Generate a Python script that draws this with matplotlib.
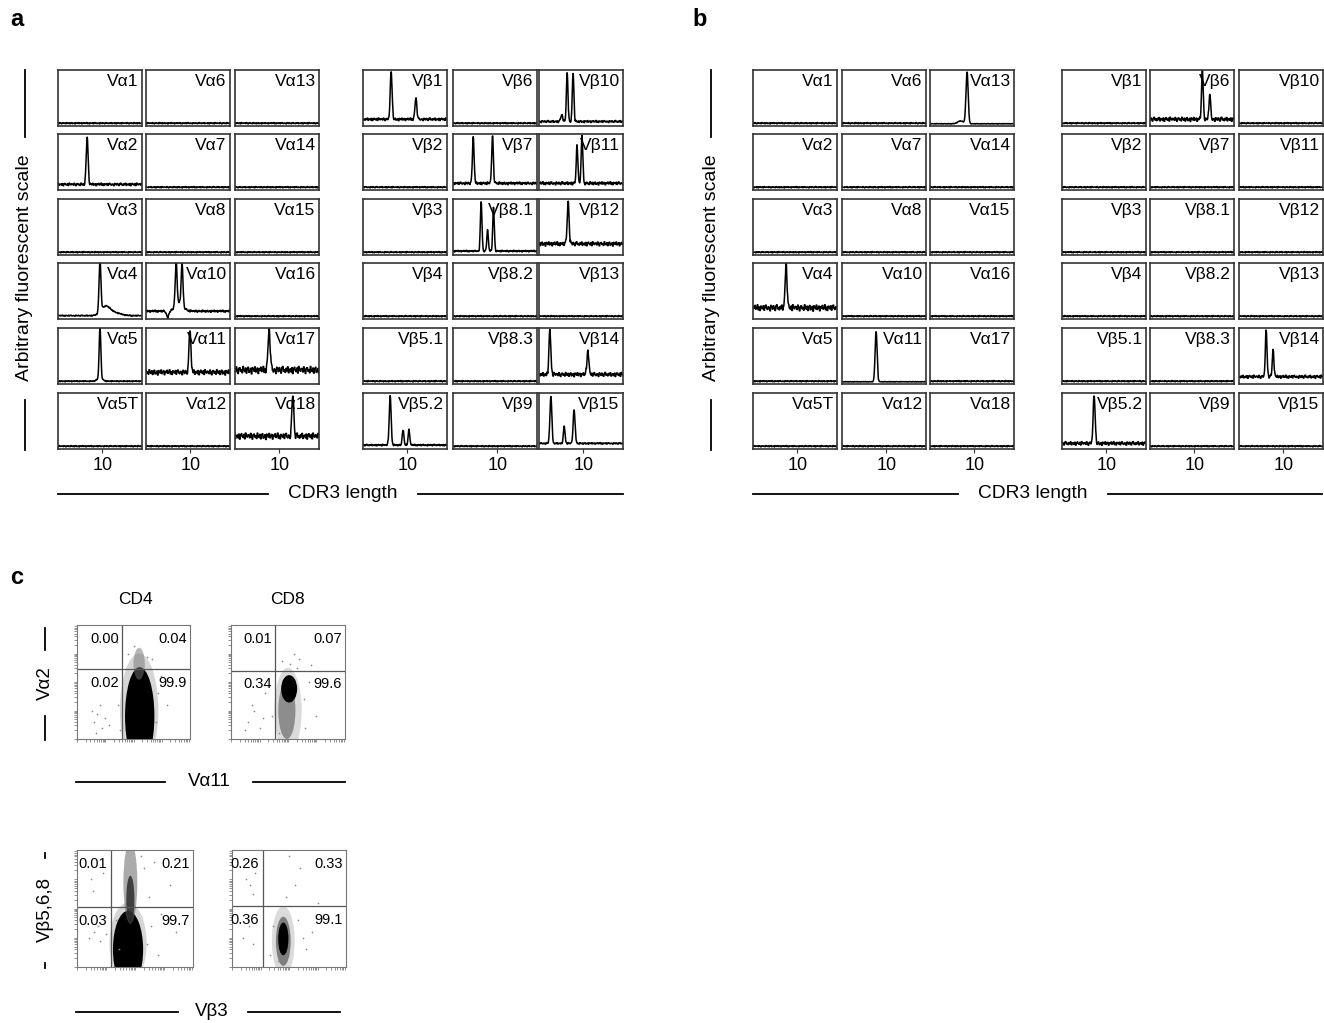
import numpy as np
import matplotlib
matplotlib.use('Agg')
import matplotlib.pyplot as plt
from matplotlib.lines import Line2D
from matplotlib.patches import Ellipse

plt.rcParams['font.family'] = ['Liberation Sans', 'DejaVu Sans']

W, H = 1324, 1023

# --- spectratype data -------------------------------------------------------
alpha_rows = [["Vα1", "Vα6", "Vα13"],
              ["Vα2", "Vα7", "Vα14"],
              ["Vα3", "Vα8", "Vα15"],
              ["Vα4", "Vα10", "Vα16"],
              ["Vα5", "Vα11", "Vα17"],
              ["Vα5T", "Vα12", "Vα18"]]
beta_rows = [["Vβ1", "Vβ6", "Vβ10"],
             ["Vβ2", "Vβ7", "Vβ11"],
             ["Vβ3", "Vβ8.1", "Vβ12"],
             ["Vβ4", "Vβ8.2", "Vβ13"],
             ["Vβ5.1", "Vβ8.3", "Vβ14"],
             ["Vβ5.2", "Vβ9", "Vβ15"]]

# peaks: (CDR3 length, amplitude above baseline, width)
peaks_a = {
    "Vα2": [(6.9, 0.86, 0.19)],
    "Vα4": [(9.5, 0.90, 0.19), (10.6, 0.16, 0.9), (12.5, 0.05, 1.2)],
    "Vα5": [(9.5, 0.90, 0.17), (9.5, 0.06, 0.5)],
    "Vα10": [(7.1, 0.78, 0.18), (8.3, 0.74, 0.18), (7.7, 0.15, 0.8), (5.4, -0.11, 0.25)],
    "Vα11": [(9.9, 0.76, 0.19)],
    "Vα17": [(7.9, 0.70, 0.22)],
    "Vα18": [(12.7, 0.74, 0.19)],
    "Vβ1": [(6.7, 0.85, 0.19), (11.7, 0.38, 0.19)],
    "Vβ5.2": [(6.5, 0.88, 0.19), (9.1, 0.28, 0.16), (10.3, 0.28, 0.16)],
    "Vβ7": [(5.1, 0.83, 0.17), (9.0, 0.83, 0.17)],
    "Vβ8.1": [(6.7, 0.88, 0.16), (8.0, 0.38, 0.15), (9.2, 0.78, 0.16)],
    "Vβ10": [(5.6, 0.12, 0.2), (6.7, 0.87, 0.16), (7.9, 0.87, 0.16)],
    "Vβ11": [(8.7, 0.68, 0.16), (9.7, 0.85, 0.16)],
    "Vβ12": [(6.9, 0.75, 0.19)],
    "Vβ14": [(3.2, 0.78, 0.19), (10.9, 0.43, 0.19)],
    "Vβ15": [(3.4, 0.85, 0.19), (6.1, 0.30, 0.17), (8.1, 0.60, 0.19)],
}
peaks_b = {
    "Vα4": [(7.7, 0.77, 0.19)],
    "Vα11": [(7.9, 0.90, 0.2)],
    "Vα13": [(8.5, 0.92, 0.22), (7.2, 0.05, 0.6)],
    "Vβ5.2": [(7.5, 0.85, 0.2)],
    "Vβ6": [(11.6, 0.85, 0.17), (13.1, 0.43, 0.17)],
    "Vβ14": [(6.5, 0.83, 0.17), (7.9, 0.48, 0.17)],
}
# baseline: (level, noise amplitude)
base_a = {"Vα2": (0.10, 0.025), "Vα4": (0.06, 0.01), "Vα5": (0.05, 0.01),
          "Vα10": (0.14, 0.02), "Vα11": (0.21, 0.05), "Vα17": (0.25, 0.07),
          "Vα18": (0.23, 0.06), "Vβ1": (0.12, 0.025), "Vβ5.2": (0.07, 0.015),
          "Vβ7": (0.12, 0.025), "Vβ8.1": (0.07, 0.015), "Vβ10": (0.08, 0.02),
          "Vβ11": (0.12, 0.03), "Vβ12": (0.20, 0.04), "Vβ14": (0.17, 0.04),
          "Vβ15": (0.10, 0.015)}
base_b = {"Vα4": (0.20, 0.06), "Vα11": (0.04, 0.005), "Vα13": (0.04, 0.005),
          "Vβ5.2": (0.10, 0.035), "Vβ6": (0.12, 0.04), "Vβ14": (0.13, 0.03)}
flat_base = (0.05, 0.012)

# measured baseline wiggle, reused in every trace
ripple = [0.2, -0.5, 0.8, -0.1, -0.9, 0.4, 0.6, -0.3, 0.1, -0.7, 0.9, 0.0, -0.4, 0.5,
          -0.8, 0.3, 0.7, -0.6, -0.2, 0.4, -1.0, 0.6, 0.2, -0.3, 0.8, -0.5, 0.1, 0.5,
          -0.9, 0.3, -0.1, 0.7, -0.4, 0.0, 0.9, -0.6, 0.2, -0.8, 0.5, 0.1, -0.3, 0.6,
          -0.7, 0.4, 0.8, -0.2, -0.5, 0.3, 0.0, -0.9, 0.7, 0.2, -0.4, 0.6, -0.1, -0.8,
          0.5, 0.9, -0.3, 0.1, -0.6, 0.4, -0.2, 0.8, -0.7, 0.0, 0.3, -0.5, 0.6, -0.9,
          0.2, 0.7, -0.1, -0.4, 0.5, -0.8, 0.9, 0.1, -0.3, 0.4]

# --- flow data ---------------------------------------------------------------
flow_titles = ["CD4", "CD8"]
flow_ylabels = ["Vα2", "Vβ5,6,8"]
flow_xlabels = ["Vα11", "Vβ3"]
gate_x = [0.40, 0.39, 0.29, 0.27]
gate_y = [0.61, 0.60, 0.51, 0.52]
quad_values = [["0.00", "0.04", "0.02", "99.9"],
               ["0.01", "0.07", "0.34", "99.6"],
               ["0.01", "0.21", "0.03", "99.7"],
               ["0.26", "0.33", "0.36", "99.1"]]
# populations: (cx, cy, width, height, gray, alpha)
populations = [
    [(0.55, 0.25, 0.34, 1.00, '0.55', 0.35), (0.555, 0.20, 0.26, 0.86, 'k', 1.0),
     (0.55, 0.66, 0.10, 0.28, '0.45', 0.5)],
    [(0.50, 0.25, 0.24, 0.75, '0.6', 0.35), (0.49, 0.25, 0.15, 0.50, '0.3', 0.55),
     (0.51, 0.44, 0.14, 0.24, 'k', 1.0)],
    [(0.44, 0.20, 0.32, 0.70, '0.55', 0.35), (0.44, 0.15, 0.26, 0.66, 'k', 1.0),
     (0.46, 0.72, 0.12, 0.70, '0.4', 0.55), (0.46, 0.58, 0.07, 0.40, '0.15', 0.8)],
    [(0.45, 0.22, 0.20, 0.60, '0.6', 0.35), (0.45, 0.22, 0.13, 0.42, '0.25', 0.6),
     (0.45, 0.24, 0.09, 0.28, 'k', 1.0)],
]
sparse_x = [[0.15, 0.18, 0.22, 0.20, 0.25, 0.13, 0.28, 0.17, 0.72, 0.80, 0.35, 0.24, 0.45, 0.66,
             0.70, 0.74, 0.36, 0.38, 0.62, 0.50],
            [0.15, 0.20, 0.25, 0.18, 0.28, 0.12, 0.60, 0.70, 0.55, 0.75, 0.22, 0.30, 0.65, 0.45,
             0.64, 0.36, 0.58, 0.42, 0.68, 0.52],
            [0.10, 0.15, 0.20, 0.18, 0.25, 0.12, 0.62, 0.72, 0.80, 0.58, 0.66, 0.22, 0.14, 0.85,
             0.60, 0.64, 0.70, 0.34, 0.36, 0.55],
            [0.10, 0.15, 0.18, 0.12, 0.20, 0.16, 0.55, 0.60, 0.50, 0.70, 0.65, 0.14, 0.18, 0.75,
             0.33, 0.36, 0.58, 0.47, 0.40, 0.62]]
sparse_y = [[0.15, 0.22, 0.10, 0.30, 0.18, 0.25, 0.12, 0.05, 0.40, 0.30, 0.85, 0.88, 0.75, 0.70,
             0.15, 0.55, 0.30, 0.08, 0.72, 0.82],
            [0.15, 0.25, 0.10, 0.30, 0.18, 0.08, 0.70, 0.65, 0.75, 0.20, 0.85, 0.40, 0.10, 0.68,
             0.35, 0.20, 0.62, 0.05, 0.50, 0.66],
            [0.25, 0.30, 0.22, 0.35, 0.28, 0.75, 0.60, 0.45, 0.70, 0.85, 0.90, 0.80, 0.65, 0.30,
             0.20, 0.35, 0.10, 0.40, 0.15, 0.95],
            [0.25, 0.35, 0.20, 0.75, 0.80, 0.70, 0.70, 0.85, 0.95, 0.30, 0.15, 0.40, 0.62, 0.55,
             0.10, 0.35, 0.40, 0.60, 0.05, 0.25]]


def px_axes(fig, x0, y0, x1, y1):
    return fig.add_axes([x0 / W, 1 - y1 / H, (x1 - x0) / W, (y1 - y0) / H])


def fig_line(fig, x0, y0, x1, y1, lw=1.3):
    fig.add_artist(Line2D([x0 / W, x1 / W], [1 - y0 / H, 1 - y1 / H],
                          transform=fig.transFigure, color='k', lw=lw))


def fig_text(fig, x, y, s, **kw):
    fig.text(x / W, 1 - y / H, s, **kw)


xgrid = np.linspace(1, 18, 300)
noise_pattern = np.repeat(np.array(ripple), 3)


def draw_trace(ax, label, peaks, bases, k):
    level, amp = bases.get(label, flat_base)
    noise = np.resize(np.roll(noise_pattern, 17 * k), xgrid.size)
    y = level + amp * noise
    for pos, h, w in peaks.get(label, []):
        y = y + h * np.exp(-0.5 * ((xgrid - pos) / w) ** 2)
    ax.plot(xgrid, y, color='k', lw=1.1)
    ax.set_xlim(1, 18)
    ax.set_ylim(0, 1)
    ax.set_yticks([])
    ax.set_xticks([10])
    ax.tick_params(axis='x', length=3, width=0.8, labelsize=13, pad=3, colors='#333')
    ax.tick_params(axis='x', labelcolor='k')
    for sp in ax.spines.values():
        sp.set_color('#333')
        sp.set_linewidth(1.2)
    ax.text(0.96, 0.92, label, transform=ax.transAxes, ha='right', va='top', fontsize=12.5)


def draw_panel(fig, alpha_x, beta_x, peaks, bases, show_ticks_row):
    rows_top = [70, 134, 199, 263, 328, 393]
    k = 0
    for cols, labels in ((alpha_x, alpha_rows), (beta_x, beta_rows)):
        for r, top in enumerate(rows_top):
            for c, x0 in enumerate(cols):
                ax = px_axes(fig, x0, top, x0 + 84, top + 56)
                draw_trace(ax, labels[r][c], peaks, bases, k)
                k += 1
                if r != show_ticks_row:
                    ax.set_xticklabels([])
                    ax.tick_params(axis='x', length=0)


fig = plt.figure(figsize=(W / 100, H / 100), dpi=100)

# panel a
draw_panel(fig, [58, 146, 235], [363, 453, 539], peaks_a, base_a, 5)
# panel b
draw_panel(fig, [753, 842, 930], [1062, 1150, 1239], peaks_b, base_b, 5)

for xs, lx in (((58, 268, 418, 623), 343), ((753, 958, 1108, 1322), 1033)):
    fig_line(fig, xs[0], 494, xs[1], 494)
    fig_line(fig, xs[2], 494, xs[3], 494)
    fig_text(fig, lx, 494, "CDR3 length", ha='center', va='center', fontsize=13.8)

for yx in (25, 711):
    fig_line(fig, yx, 70, yx, 137)
    fig_line(fig, yx, 400, yx, 450)
    fig_text(fig, yx, 268, "Arbitrary fluorescent scale", rotation=90,
             ha='center', va='center', fontsize=14)

fig_text(fig, 17, 20, "a", fontsize=17, fontweight='bold', ha='center', va='center')
fig_text(fig, 700, 20, "b", fontsize=17, fontweight='bold', ha='center', va='center')
fig_text(fig, 17, 578, "c", fontsize=17, fontweight='bold', ha='center', va='center')

# panel c
flow_boxes = [(77, 625, 190, 739), (231, 625, 345, 739),
              (77, 850, 193, 967), (232, 850, 346, 967)]
minor = np.concatenate([d + np.log10(np.arange(1, 10)) for d in range(4)]) / 4.0

for i, (x0, y0, x1, y1) in enumerate(flow_boxes):
    ax = px_axes(fig, x0, y0, x1, y1)
    ax.set_xlim(0, 1)
    ax.set_ylim(0, 1)
    for cx, cy, w, h, col, a in populations[i]:
        ax.add_patch(Ellipse((cx, cy), w, h, facecolor=col, edgecolor='none', alpha=a))
    ax.scatter(sparse_x[i], sparse_y[i], s=1.5, color='0.55', linewidths=0)
    ax.axvline(gate_x[i], color='#555', lw=0.9)
    ax.axhline(gate_y[i], color='#555', lw=0.9)
    ul, ur, ll, lr = quad_values[i]
    ax.text(gate_x[i] - 0.03, 0.94, ul, ha='right', va='top', fontsize=10.5)
    ax.text(0.97, 0.94, ur, ha='right', va='top', fontsize=10.5)
    ax.text(gate_x[i] - 0.03, gate_y[i] - 0.06, ll, ha='right', va='top', fontsize=10.5)
    ax.text(0.97, gate_y[i] - 0.06, lr, ha='right', va='top', fontsize=10.5)
    ax.set_xticks(minor)
    ax.set_yticks(minor)
    ax.set_xticklabels([])
    ax.set_yticklabels([])
    ax.tick_params(length=2, width=0.5, colors='#666')
    for sp in ax.spines.values():
        sp.set_color('#777')
        sp.set_linewidth(0.8)

fig_text(fig, 135, 599, flow_titles[0], ha='center', va='center', fontsize=12.5)
fig_text(fig, 287, 599, flow_titles[1], ha='center', va='center', fontsize=12.5)

# y labels for flow rows
fig_line(fig, 45, 628, 45, 650)
fig_line(fig, 45, 716, 45, 740)
fig_text(fig, 45, 683, flow_ylabels[0], rotation=90, ha='center', va='center', fontsize=13.5)
fig_line(fig, 45, 853, 45, 858)
fig_line(fig, 45, 963, 45, 968)
fig_text(fig, 45, 910, flow_ylabels[1], rotation=90, ha='center', va='center', fontsize=13.5)

# x labels for flow rows
fig_line(fig, 76, 782, 165, 782)
fig_line(fig, 253, 782, 345, 782)
fig_text(fig, 209, 782, flow_xlabels[0], ha='center', va='center', fontsize=13.5)
fig_line(fig, 76, 1012, 178, 1012)
fig_line(fig, 248, 1012, 340, 1012)
fig_text(fig, 212, 1012, flow_xlabels[1], ha='center', va='center', fontsize=13.5)

fig.savefig('out.png', dpi=100)
